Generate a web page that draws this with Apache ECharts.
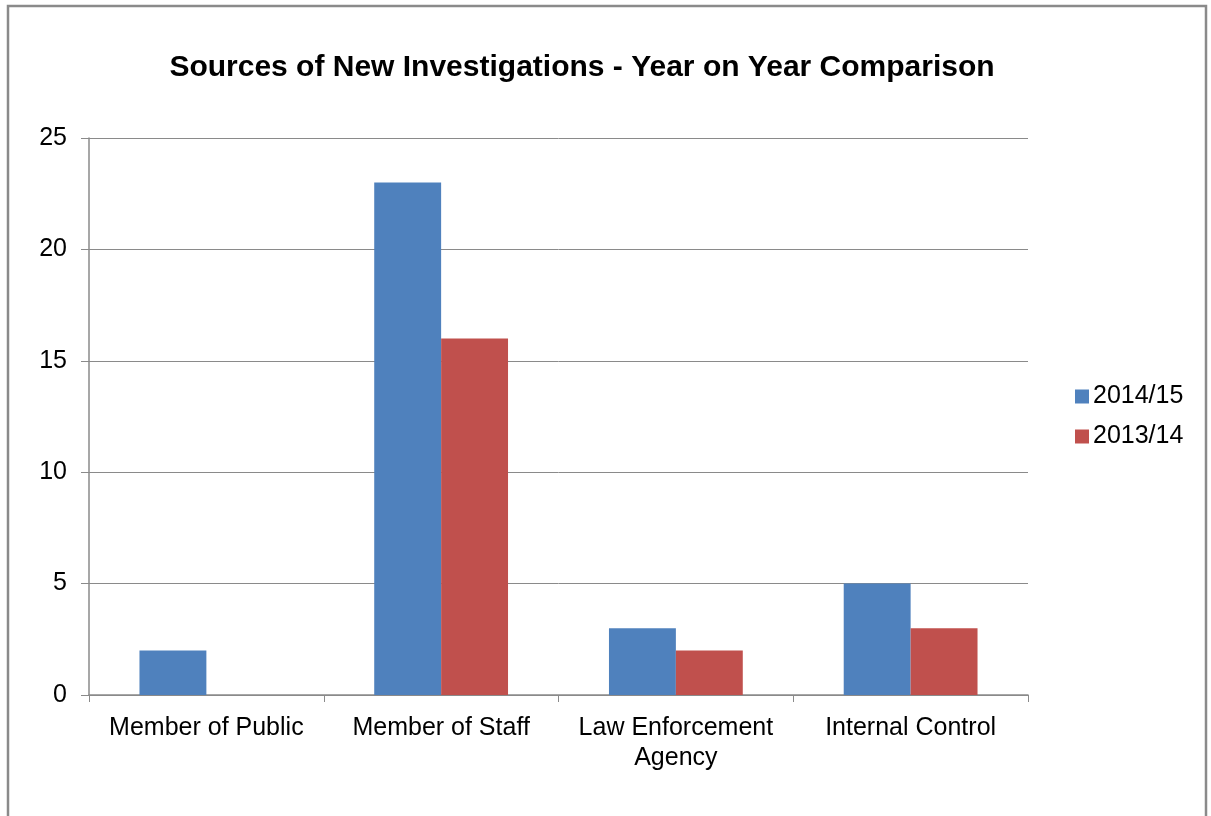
<!DOCTYPE html>
<html><head><meta charset="utf-8">
<script src="https://cdn.jsdelivr.net/npm/echarts@6/dist/echarts.min.js"></script>
<style>html,body{margin:0;padding:0;background:#fff}#c{width:1211px;height:816px}</style>
</head><body><div id="c"></div>
<script>
const categories = ['Member of Public', 'Member of Staff', 'Law Enforcement\nAgency', 'Internal Control'];
const series2014 = [2, 23, 3, 5];
const series2013 = [0, 16, 2, 3];
const seriesNames = ['2014/15', '2013/14'];
const yTicks = { min: 0, max: 25, interval: 5 };

const chart = echarts.init(document.getElementById('c'));
const font = 'Liberation Sans, Arial, sans-serif';
chart.setOption({
  animation: false,
  backgroundColor: '#fff',
  graphic: [{
    type: 'rect', shape: { x: 8, y: 6, width: 1198, height: 830 },
    style: { fill: 'none', stroke: '#8a8a8a', lineWidth: 2.5 }, silent: true
  }],
  title: {
    text: 'Sources of New Investigations - Year on Year Comparison',
    left: 577, top: 48, textAlign: 'center',
    textStyle: { fontFamily: font, fontWeight: 'bold', fontSize: 30, color: '#000' }
  },
  legend: {
    orient: 'vertical', left: 1070, top: 379, itemGap: 15,
    itemWidth: 14, itemHeight: 14, icon: 'rect',
    textStyle: { fontFamily: font, fontSize: 25, color: '#000', padding: [0, 0, 0, -1] },
    data: seriesNames
  },
  grid: { left: 89, right: 183, top: 138, bottom: 121, containLabel: false },
  xAxis: {
    type: 'category', data: categories,
    axisLine: { lineStyle: { color: '#8a8a8a', width: 1.5 } },
    axisTick: { show: true, length: 7, lineStyle: { color: '#8a8a8a' } },
    axisLabel: { interval: 0, fontFamily: font, fontSize: 25, color: '#000', margin: 18, lineHeight: 30 }
  },
  yAxis: {
    type: 'value', min: yTicks.min, max: yTicks.max, interval: yTicks.interval,
    axisLine: { show: true, lineStyle: { color: '#8a8a8a', width: 1.5 } },
    axisTick: { show: true, length: 8, lineStyle: { color: '#8a8a8a' } },
    splitLine: { lineStyle: { color: '#8a8a8a', width: 1 } },
    axisLabel: { fontFamily: font, fontSize: 25, color: '#000', margin: 22 }
  },
  series: [
    { name: seriesNames[0], type: 'bar', data: series2014, barGap: '0%', barCategoryGap: '43%',
      itemStyle: { color: '#4f81bd' } },
    { name: seriesNames[1], type: 'bar', data: series2013, barGap: '0%', barCategoryGap: '43%',
      itemStyle: { color: '#c0504d' } }
  ]
});
</script></body></html>
